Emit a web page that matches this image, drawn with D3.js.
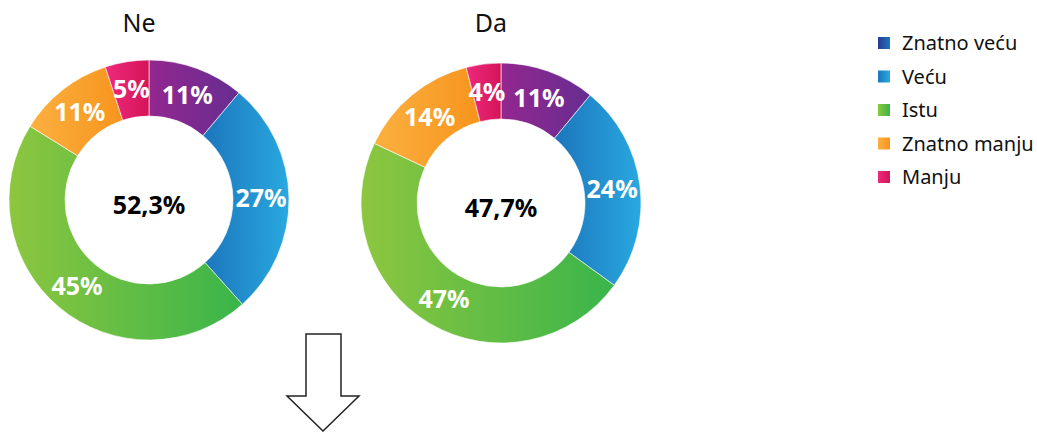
<!DOCTYPE html>
<html>
<head>
<meta charset="utf-8">
<script src="https://cdn.jsdelivr.net/npm/d3@7"></script>
<style>
  html, body { margin: 0; padding: 0; background: #fff; }
  svg { display: block; font-family: "Noto Sans", "Open Sans", sans-serif; }
</style>
</head>
<body>
<svg id="chart" width="1037" height="432"></svg>
<script>
// Answer categories (legend order)
const categories = ["Znatno veću", "Veću", "Istu", "Znatno manju", "Manju"];

// Group titles and their share of respondents
const groups = ["Ne", "Da"];
const groupShares = ["52,3%", "47,7%"];

// Percent per category, one array per group (same order as categories)
const valuesNe = [11, 27, 45, 11, 5];
const valuesDa = [11, 24, 47, 14, 4];

// Gradient stops (left → right) for the ring slices
const sliceColors = [
  ["#93278f", "#662d91"],
  ["#1c75bc", "#29a9e0"],
  ["#8dc63f", "#39b54a"],
  ["#fbb040", "#f7941d"],
  ["#ee2a7b", "#d4145a"]
];
// Gradient stops for the legend swatches
const legendColors = [
  ["#2b3990", "#1c75bc"],
  ["#1c75bc", "#29abe2"],
  ["#8dc63f", "#39b54a"],
  ["#fbb040", "#f7941d"],
  ["#ee2a7b", "#d4145a"]
];

const svg = d3.select("#chart");
const defs = svg.append("defs");

function addGradient(id, stops) {
  const g = defs.append("linearGradient")
    .attr("id", id)
    .attr("x1", "0%").attr("y1", "0%")
    .attr("x2", "100%").attr("y2", "0%");
  g.append("stop").attr("offset", "0%").attr("stop-color", stops[0]);
  g.append("stop").attr("offset", "100%").attr("stop-color", stops[1]);
}
sliceColors.forEach((s, i) => addGradient("slice" + i, s));
legendColors.forEach((s, i) => addGradient("legend" + i, s));

const outerR = 140, innerR = 84;
const centers = [{ x: 149, y: 200 }, { x: 501, y: 203 }];
const allValues = [valuesNe, valuesDa];

const pie = d3.pie().sort(null).value(d => d.value);
const arc = d3.arc().innerRadius(innerR).outerRadius(outerR);

allValues.forEach((vals, gi) => {
  const data = categories.map((c, i) => ({ cat: c, idx: i, value: vals[i] }));
  const c = centers[gi];
  const g = svg.append("g").attr("transform", `translate(${c.x},${c.y})`);

  const arcs = pie(data);
  g.selectAll("path.slice")
    .data(arcs)
    .join("path")
    .attr("class", "slice")
    .attr("d", arc)
    .attr("fill", d => `url(#slice${d.data.idx})`)
    .attr("stroke", "#fff")
    .attr("stroke-width", 0.6);

  g.selectAll("text.pct")
    .data(arcs)
    .join("text")
    .attr("class", "pct")
    .attr("transform", d => `translate(${arc.centroid(d)})`)
    .attr("text-anchor", "middle")
    .attr("dy", "0.36em")
    .attr("fill", "#fff")
    .attr("font-weight", 700)
    .attr("font-size", 25)
    .text(d => d.data.value + "%");

  g.append("text")
    .attr("text-anchor", "middle")
    .attr("y", 14)
    .attr("fill", "#000")
    .attr("font-weight", 700)
    .attr("font-size", 25)
    .text(groupShares[gi]);

  svg.append("text")
    .attr("x", c.x - 10)
    .attr("y", 32)
    .attr("text-anchor", "middle")
    .attr("fill", "#111")
    .attr("font-size", 25)
    .text(groups[gi]);
});

// Legend
const legend = svg.append("g").attr("transform", "translate(878,43)");
const rowGap = 33.5;
categories.forEach((c, i) => {
  const row = legend.append("g").attr("transform", `translate(0,${i * rowGap})`);
  row.append("rect")
    .attr("x", 0).attr("y", -6)
    .attr("width", 12).attr("height", 12)
    .attr("fill", `url(#legend${i})`);
  row.append("text")
    .attr("x", 24).attr("y", 0)
    .attr("dy", "0.35em")
    .attr("fill", "#111")
    .attr("font-size", 20)
    .text(c);
});

// Downward arrow beneath the first ring
const arrow = d3.path();
arrow.moveTo(306, 334);
arrow.lineTo(341, 334);
arrow.lineTo(341, 396);
arrow.lineTo(359, 396);
arrow.lineTo(323, 431);
arrow.lineTo(287, 396);
arrow.lineTo(306, 396);
arrow.closePath();
svg.append("path")
  .attr("d", arrow.toString())
  .attr("fill", "#fff")
  .attr("stroke", "#222")
  .attr("stroke-width", 1.5)
  .attr("stroke-linejoin", "miter");
</script>
</body>
</html>
